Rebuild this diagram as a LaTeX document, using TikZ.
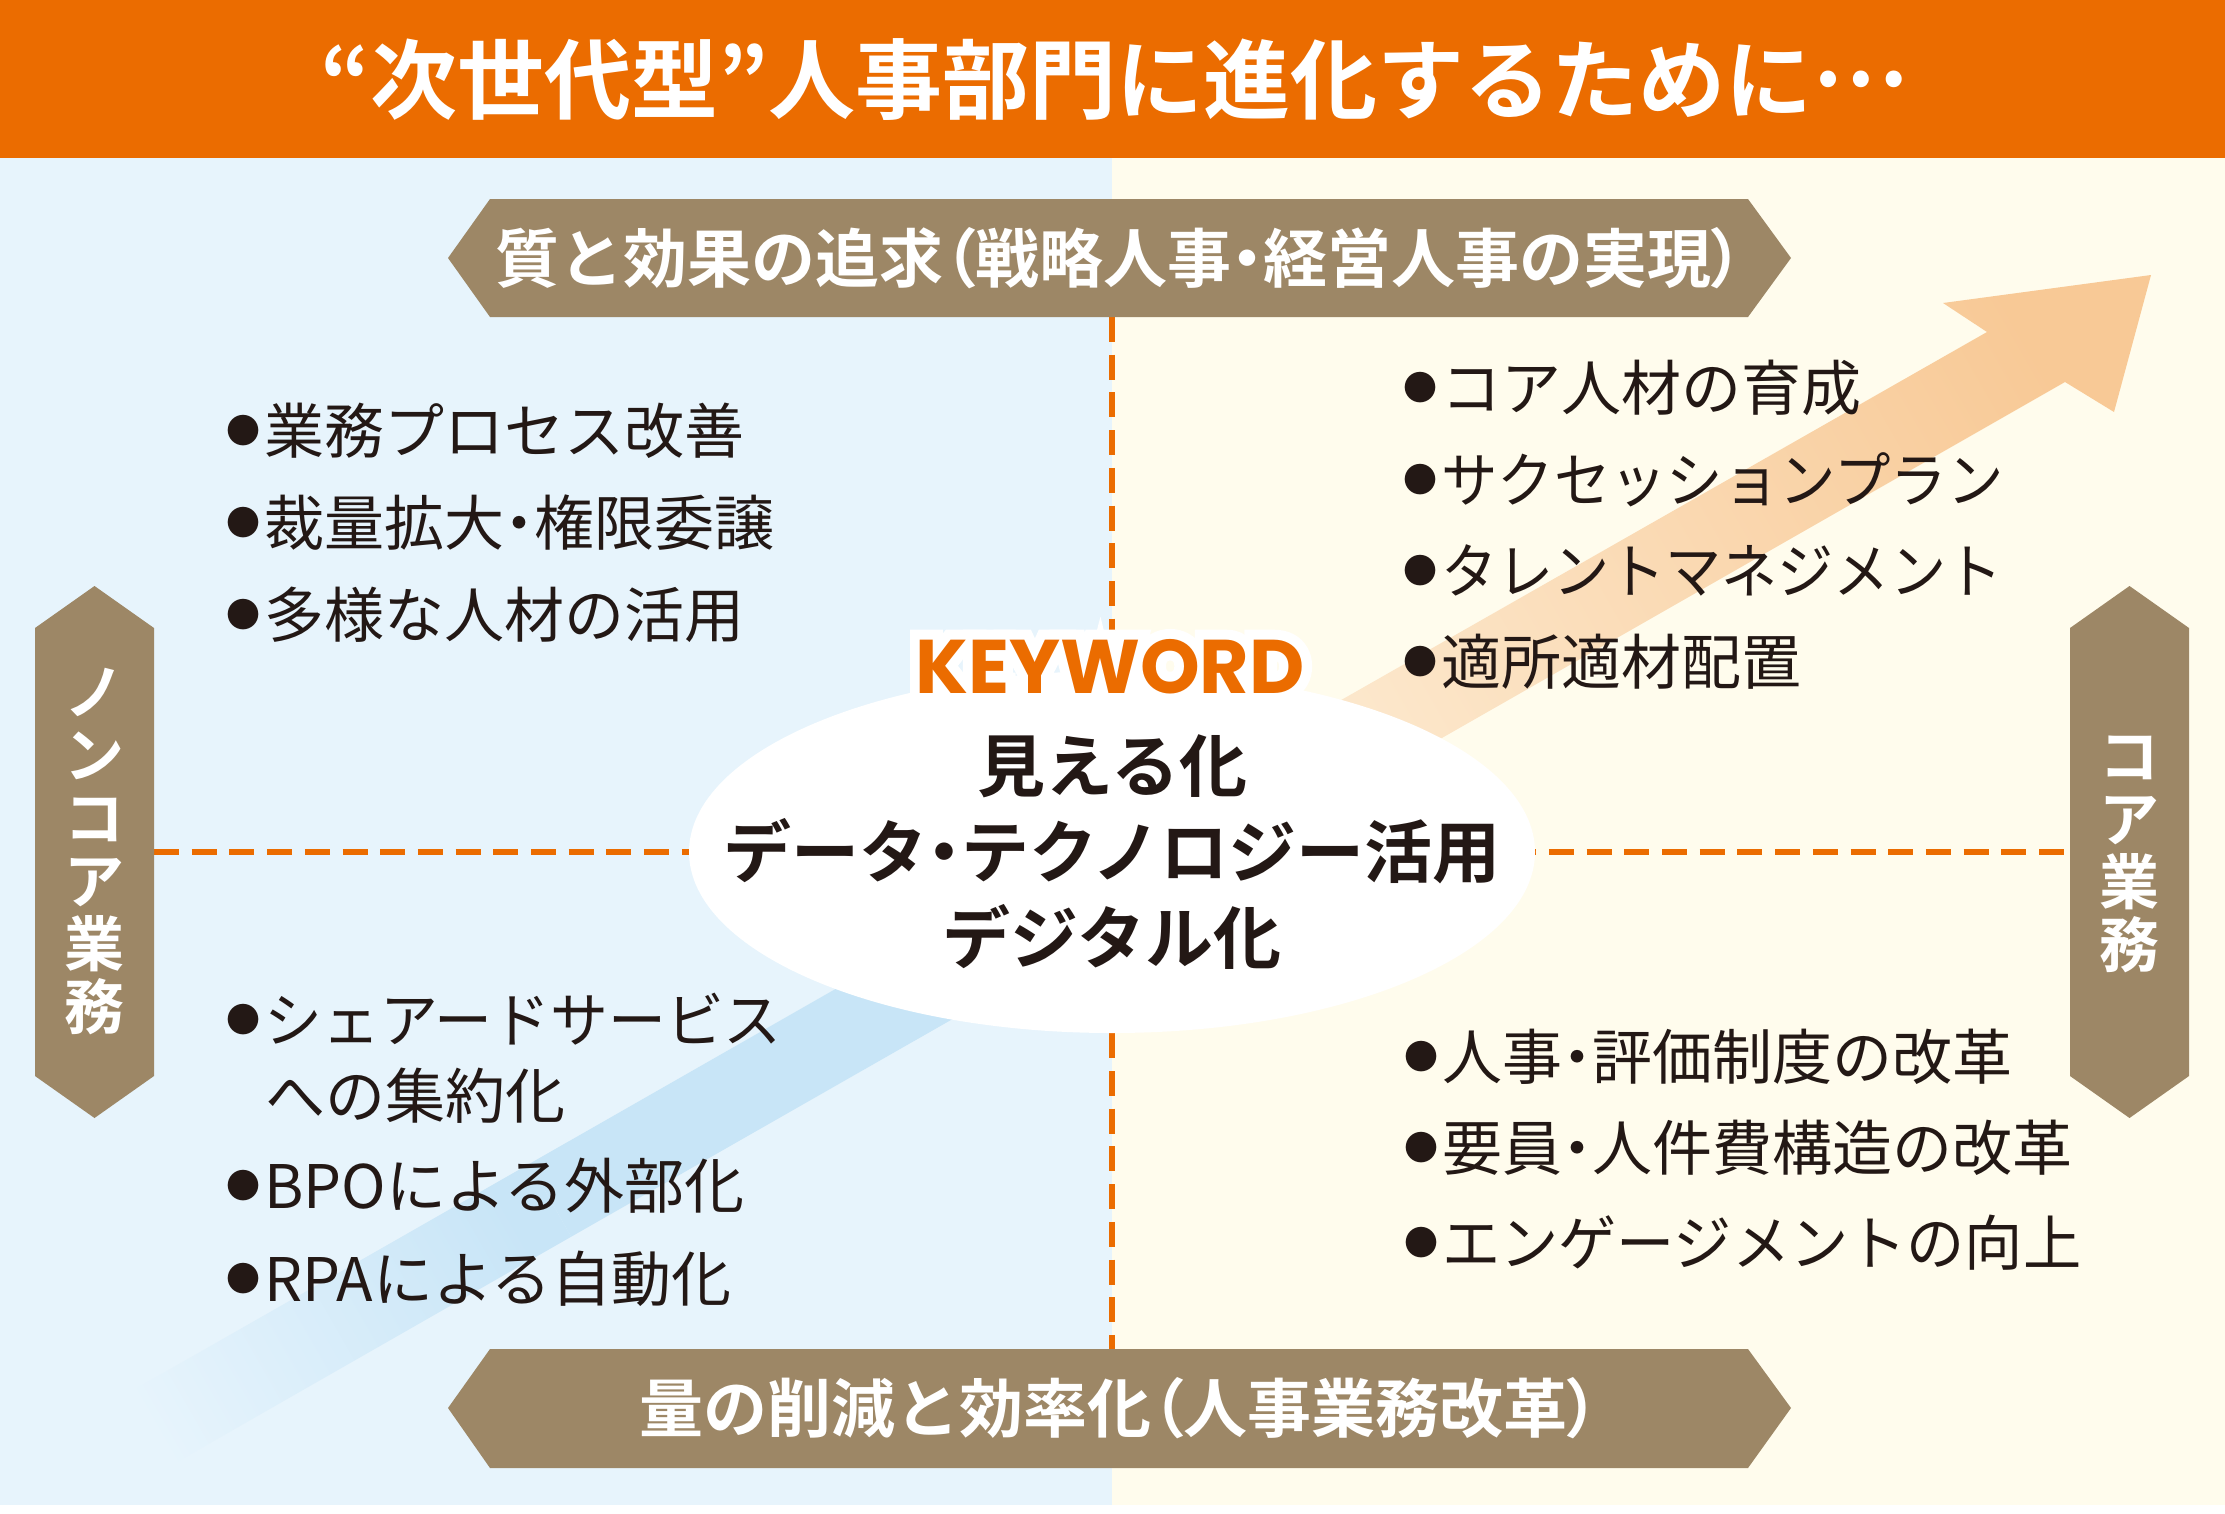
\documentclass[tikz,border=0pt]{standalone}
\usepackage{fontspec}
\usepackage{graphicx}
\newfontfamily\jp{Noto Sans CJK JP}[BoldFont={Noto Sans CJK JP Bold}]
\newfontfamily\jpp{Noto Sans CJK JP}[BoldFont={Noto Sans CJK JP Bold}, RawFeature=+palt]
\newfontfamily\pop{Poppins}[BoldFont={Poppins Bold}]
\newfontfamily\pophalo{Poppins}[BoldFont={Poppins Bold}, BoldFeatures={FakeBold=26}]
\usetikzlibrary{calc}
\definecolor{orng}{RGB}{235,108,0}
\definecolor{brwn}{RGB}{157,135,102}
\definecolor{bgL}{RGB}{231,244,252}
\definecolor{bgR}{RGB}{255,252,237}
\definecolor{ink}{RGB}{35,24,21}
\definecolor{arrA}{RGB}{252,231,203}
\definecolor{arrB}{RGB}{248,201,150}
\definecolor{blu}{RGB}{200,229,247}
\newcommand\itembul{\raisebox{10pt}{\fontsize{34pt}{34pt}\selectfont ●}\hspace{4pt}}
\newcommand\jdot{{\jpp ・}}
\newcommand\jlp{{\jpp （}}
\newcommand\jrp{{\jpp ）}}
\newcommand\kx[2]{\scalebox{#1}[1]{#2}}
\tikzset{
  item/.style={text=ink, font={\jp\fontsize{60pt}{76pt}\selectfont}, anchor=base west, inner sep=0pt},
  bantext/.style={text=white, font={\jp\bfseries\fontsize{64pt}{64pt}\selectfont}, inner sep=0pt},
  vtext/.style={text=white, font={\jp\bfseries\fontsize{60pt}{63pt}\selectfont}, align=center, inner sep=0pt},
  guide/.style={draw=orng, line width=6pt, dash pattern=on 25pt off 12.7pt},
  shapefill/.style={fill=brwn, draw=none},
}
\begin{document}
\begin{tikzpicture}[x=1pt, y=-1pt]
\useasboundingbox (0,0) rectangle (2225,1513);
% backgrounds
\fill[white] (0,0) rectangle (2225,1513);
\fill[bgL] (0,158) rectangle (1112,1505);
\fill[bgR] (1112,158) rectangle (2225,1505);
\fill[orng] (0,0) rectangle (2225,158);
% blue band (lower-left part of the arrow)
\fill[blu] (1007,891) -- (1049,964) -- (571.2,1236.7) -- (529.6,1163.7) -- cycle;
\shade[top color=blu, bottom color=bgL, shading angle=-60.25]
  (529.6,1163.7) -- (571.2,1236.7) -- (137.2,1484.7) -- (95.6,1411.7) -- cycle;
% orange arrow
\shade[top color=arrB, bottom color=arrA, shading angle=-60.25]
  (1250,752) -- (1987,332) -- (1943,303) -- (2151,275) -- (2114,412) -- (2065,382) -- (1350,790.5) -- cycle;
% dashed guides
\coordinate (gL) at (154,852);
\coordinate (gR) at (2070,852);
\coordinate (gT) at (1112,317);
\coordinate (gB) at (1112,1349);
\draw[guide] (gL) -- (gR);
\draw[guide] (gT) -- (gB);
% banners
\fill[shapefill] (448,258) -- (490,199) -- (1748,199) -- (1791,258) -- (1748,317) -- (490,317) -- cycle;
\fill[shapefill] (448,1408) -- (490,1349) -- (1748,1349) -- (1791,1408) -- (1748,1468) -- (490,1468) -- cycle;
\fill[shapefill] (35,628) -- (94.5,586) -- (154,628) -- (154,1076) -- (94.5,1118) -- (35,1076) -- cycle;
\fill[shapefill] (2070,628) -- (2129.5,586) -- (2189,628) -- (2189,1076) -- (2129.5,1118) -- (2070,1076) -- cycle;
% ellipse
\fill[white] (1112,852) ellipse [x radius=423, y radius=181];
% keyword with white halo
\node[font={\pophalo\bfseries\fontsize{76pt}{76pt}\selectfont}, text=white, inner sep=0pt, anchor=base] (kwhalo) at (1110,693) {KEYWORD};
\node[font={\pop\bfseries\fontsize{76pt}{76pt}\selectfont}, text=orng, inner sep=0pt, anchor=base] (kw) at (1110,693) {KEYWORD};
% title
\node[text=white, font={\jp\bfseries\fontsize{87pt}{87pt}\selectfont}, inner sep=0pt] (title) at (1114,80) {“次世代型”人事部門に進化するために\raisebox{0.3em}{…}};
% banner texts
\node[bantext] (topban) at (1119.5,258) {質と効果の追求\jlp 戦略人事\jdot 経営人事の実現\jrp};
\node[bantext] (botban) at (1119.5,1408) {量の削減と効率化\jlp 人事業務改革\jrp};
% vertical labels
\node[vtext] (noncore) at (94.5,852) {ノ\\ン\\コ\\ア\\業\\務};
\node[vtext] (core) at (2129.5,854) {コ\\ア\\業\\務};
% ellipse text
\node[text=ink, font={\jp\bfseries\fontsize{68pt}{86pt}\selectfont}, align=center, inner sep=0pt] (center) at (1112,852) {見える化\\データ\jdot テクノロジー活用\\デジタル化};
% left top list
\node[item] (lt1) at (226,453) {\itembul 業務プロセス改善};
\node[item] (lt2) at (226,545) {\itembul 裁量拡大\jdot 権限委譲};
\node[item] (lt3) at (226,637) {\itembul 多様な人材の活用};
% right top list
\node[item] (rt1) at (1403,410) {\itembul コア人材の育成};
\node[item] (rt2) at (1403,502) {\itembul \kx{0.94}{サクセッションプラン}};
\node[item] (rt3) at (1403,593) {\itembul \kx{0.935}{タレントマネジメント}};
\node[item] (rt4) at (1403,684) {\itembul 適所適材配置};
% left bottom list
\node[item] (lb1) at (226,1042) {\itembul \kx{0.965}{シェアードサービス}};
\node[item] (lb1b) at (265,1118) {への集約化};
\node[item] (lb2) at (226,1208) {\itembul BPOによる外部化};
\node[item] (lb3) at (226,1301) {\itembul RPAによる自動化};
% right bottom list
\node[item] (rb1) at (1404,1079) {\itembul 人事\jdot 評価制度の改革};
\node[item] (rb2) at (1404,1170) {\itembul 要員\jdot 人件費構造の改革};
\node[item] (rb3) at (1404,1265) {\itembul \kx{0.97}{エンゲージメントの向上}};
\end{tikzpicture}
\end{document}
